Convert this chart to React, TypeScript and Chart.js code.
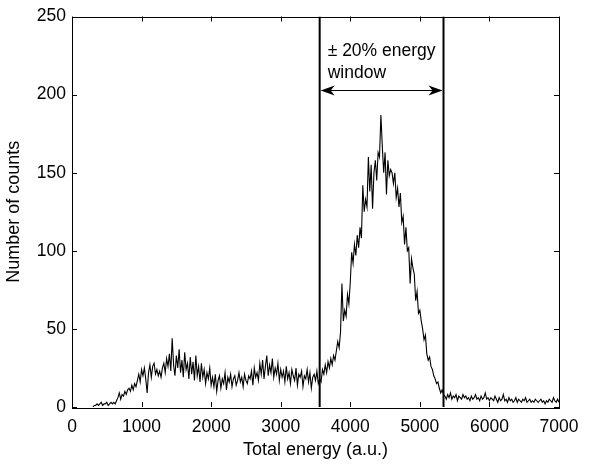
import React, { useEffect, useRef } from "react";
import { Chart, registerables } from "chart.js";

Chart.register(...registerables);

// ---- data (counts per 20 a.u. bin) ----
const BIN = 20;

const startLow = 300;
const countsLow = [0, 1, 1, 2, 1, 2, 3, 1, 2, 2, 3, 1, 2, 3, 2, 3, 2, 4, 6, 9, 5, 8, 7, 10, 8, 11, 12, 10, 14, 11, 15, 13, 17, 21, 16, 24];

const startHump = 1020;
const countsHump = [20, 25, 18, 9, 22, 27, 19, 26, 28, 21, 24, 20, 23, 19, 25,
  28, 22, 31, 26, 34, 23, 44, 27, 20, 33, 25, 37, 22, 30, 19, 35, 24, 28, 18, 32,
  21, 29, 17, 33, 20, 26, 16, 28, 19, 24, 15, 22, 18, 25, 14];

const startPlateau = 2020;
const countsPlateau = [19, 13, 21, 10, 17, 20, 12, 18, 15, 22, 11, 19, 16, 21, 13, 18, 20, 14, 17, 22, 16, 19, 13, 21, 17,
  15, 20, 18, 23, 14, 25, 19, 22, 17, 28, 21, 30, 18, 26, 33, 20, 27, 22, 31, 19, 25, 21, 28, 17, 24,
  19, 23, 16, 26, 18, 22, 15, 24, 20, 17, 25, 14, 21, 19, 23, 13, 20, 18, 24, 16, 22, 12, 19, 21, 17, 23, 15];

const startPeak = 3560;
const countsPeak = [18, 16, 24, 21, 27, 22, 29, 25, 31, 27, 33, 30, 36,
  42, 38, 48, 79, 55, 62, 58, 72, 66, 80,
  99, 92, 104, 97, 110, 102, 115, 108, 142, 125,
  133, 128, 160, 138, 155, 127, 150, 158, 145, 163, 160,
  187,
  167, 150, 163, 136, 158, 148, 152, 150,
  143, 150, 134, 140, 128, 137, 118, 122, 104, 115,
  100, 102, 79, 95, 89, 85, 68, 74, 60, 62,
  55, 50, 43, 46, 34, 30, 32, 26, 24, 20,
  18, 15, 16, 12, 9, 11, 8];

const startTail = 5360;
const countsTail = [7, 5, 8, 6, 9, 5, 7, 6, 8, 4, 7, 6, 5, 8, 6, 7, 5, 6, 4, 7, 5, 6, 8, 5, 6, 4, 7, 5, 6, 9, 5, 6, 4,
  6, 5, 4, 7, 5, 3, 6, 4, 5, 8, 4, 5, 3, 6, 4, 5, 3, 4, 6, 3, 5, 4, 3, 5, 4, 6, 3, 4, 5, 3, 4, 3, 5, 4, 3, 4, 5, 3, 4, 2, 4, 3, 5, 4, 3, 6, 4, 3, 5, 3];

const xTickValues = [0, 1000, 2000, 3000, 4000, 5000, 6000, 7000];
const yTickValues = [0, 50, 100, 150, 200, 250];

const windowLow = 3560;
const windowHigh = 5340;
const arrowLevel = 203;
const labelLine1 = "\u00B1 20% energy";
const labelLine1Level = 228;
const labelLine2 = "window";
const labelLine2Level = 214;

const xTitle = "Total energy (a.u.)";
const yTitle = "Number of counts";

// ---- helpers ----
function segment(start: number, values: number[]) {
  return values.map((v, i) => ({ x: start + i * BIN, y: v }));
}

const FONT = "'Liberation Sans', Arial, Helvetica, sans-serif";
const TICK_SIZE = 17.5;
const TITLE_SIZE = 18;
const NOTE_SIZE = 17.5;

const framePlugin = {
  id: "frameTicks",
  afterDatasetsDraw(chart: any) {
    const { ctx, chartArea } = chart;
    const xs = chart.scales.x;
    const ys = chart.scales.y;
    const { left, right, top, bottom } = chartArea;
    ctx.save();
    ctx.strokeStyle = "#000";
    ctx.lineWidth = 1;
    ctx.strokeRect(Math.round(left) + 0.5, Math.round(top) + 0.5, Math.round(right - left), Math.round(bottom - top));
    const tl = 5;
    ctx.beginPath();
    xTickValues.forEach((v) => {
      const px = Math.round(xs.getPixelForValue(v)) + 0.5;
      ctx.moveTo(px, bottom);
      ctx.lineTo(px, bottom - tl);
      ctx.moveTo(px, top);
      ctx.lineTo(px, top + tl);
    });
    yTickValues.forEach((v) => {
      const py = Math.round(ys.getPixelForValue(v)) + 0.5;
      ctx.moveTo(left, py);
      ctx.lineTo(left + tl, py);
      ctx.moveTo(right, py);
      ctx.lineTo(right - tl, py);
    });
    ctx.stroke();

    // annotation: double arrow + text
    const x1 = xs.getPixelForValue(windowLow);
    const x2 = xs.getPixelForValue(windowHigh);
    const ay = Math.round(ys.getPixelForValue(arrowLevel)) + 0.5;
    ctx.beginPath();
    ctx.moveTo(x1 + 2, ay);
    ctx.lineTo(x2 - 2, ay);
    ctx.stroke();
    const head = (tipX: number, dir: number) => {
      ctx.beginPath();
      ctx.moveTo(tipX, ay);
      ctx.lineTo(tipX + dir * 14, ay - 5);
      ctx.lineTo(tipX + dir * 10, ay);
      ctx.lineTo(tipX + dir * 14, ay + 5);
      ctx.closePath();
      ctx.fillStyle = "#000";
      ctx.fill();
    };
    head(x1 + 1, 1);
    head(x2 - 1, -1);

    ctx.fillStyle = "#000";
    ctx.font = `${NOTE_SIZE}px ${FONT}`;
    ctx.textAlign = "left";
    ctx.textBaseline = "middle";
    ctx.fillText(labelLine1, x1 + 8, ys.getPixelForValue(labelLine1Level));
    ctx.fillText(labelLine2, x1 + 8, ys.getPixelForValue(labelLine2Level));
    ctx.restore();
  },
};

export default function App() {
  const ref = useRef<HTMLCanvasElement | null>(null);

  useEffect(() => {
    if (!ref.current) return;
    const spectrum = [
      ...segment(startLow, countsLow),
      ...segment(startHump, countsHump),
      ...segment(startPlateau, countsPlateau),
      ...segment(startPeak, countsPeak),
      ...segment(startTail, countsTail),
    ];
    const chart = new Chart(ref.current, {
      type: "line",
      data: {
        datasets: [
          {
            data: spectrum,
            borderColor: "#000",
            borderWidth: 1.1,
            pointRadius: 0,
            tension: 0,
          },
          {
            data: [
              { x: windowLow, y: 0 },
              { x: windowLow, y: 250 },
            ],
            borderColor: "#000",
            borderWidth: 2,
            pointRadius: 0,
          },
          {
            data: [
              { x: windowHigh, y: 0 },
              { x: windowHigh, y: 250 },
            ],
            borderColor: "#000",
            borderWidth: 2,
            pointRadius: 0,
          },
        ],
      },
      options: {
        animation: false,
        responsive: false,
        devicePixelRatio: 1,
        parsing: false as any,
        layout: { padding: { left: 0, right: 41, top: 12, bottom: 4 } },
        plugins: {
          legend: { display: false },
          tooltip: { enabled: false },
        },
        scales: {
          x: {
            type: "linear",
            min: 0,
            max: 7000,
            afterBuildTicks: (scale: any) => {
              scale.ticks = xTickValues.map((v) => ({ value: v }));
            },
            afterFit: (scale: any) => {
              scale.height = 55;
            },
            ticks: {
              color: "#000",
              font: { family: FONT, size: TICK_SIZE },
              padding: 10,
              maxRotation: 0,
              autoSkip: false,
              callback: (v: any) => String(v),
            },
            grid: { display: false, drawTicks: false },
            border: { display: false },
            title: {
              display: true,
              text: xTitle,
              color: "#000",
              font: { family: FONT, size: TITLE_SIZE },
              padding: { top: 0, bottom: 1 },
            },
          },
          y: {
            type: "linear",
            min: 0,
            max: 250,
            afterBuildTicks: (scale: any) => {
              scale.ticks = yTickValues.map((v) => ({ value: v }));
            },
            afterFit: (scale: any) => {
              scale.width = 72;
            },
            ticks: {
              color: "#000",
              font: { family: FONT, size: TICK_SIZE },
              padding: 6,
              autoSkip: false,
              callback: (v: any) => String(v),
            },
            grid: { display: false, drawTicks: false },
            border: { display: false },
            title: {
              display: true,
              text: yTitle,
              color: "#000",
              font: { family: FONT, size: TITLE_SIZE },
              padding: { top: 3, bottom: 0 },
            },
          },
        },
      },
      plugins: [framePlugin],
    });
    return () => chart.destroy();
  }, []);

  return (
    <div style={{ position: "fixed", left: 0, top: 0, width: 600, height: 466, background: "#fff" }}>
      <canvas ref={ref} width={600} height={466} style={{ width: 600, height: 466, display: "block" }} />
    </div>
  );
}
